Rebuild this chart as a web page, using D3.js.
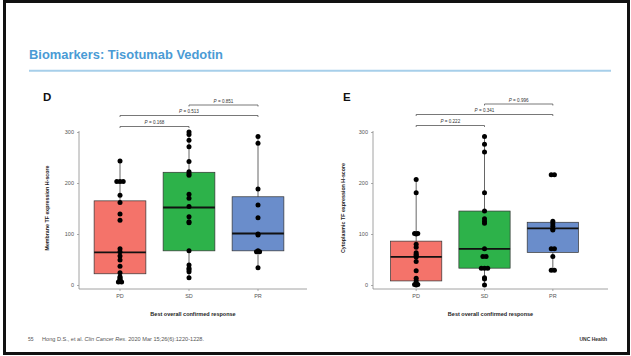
<!DOCTYPE html>
<html><head><meta charset="utf-8">
<script src="https://cdn.jsdelivr.net/npm/d3@7/dist/d3.min.js"></script>
<style>html,body{margin:0;padding:0;background:#fff;}svg{display:block;font-family:"Liberation Sans",Arial,sans-serif;}</style>
</head><body>
<svg id="c" width="631" height="356"></svg>
<script>
// ---------- data ----------
const categories = ["PD", "SD", "PR"];
const yTicks = [0, 100, 200, 300];
const fillColors = ["#F4736A", "#2DB24A", "#6A8DCB"];

// Panel D: membrane TF expression H-score
const membranePD = [243, 203, 203, 203, 176, 162, 139, 127, 71, 65, 57, 49, 37, 24, 16, 14, 12, 10, 8, 6, 6];
const membraneSD = [300, 295, 284, 271, 242, 222, 218, 215, 178, 170, 154, 134, 124, 122, 67, 39, 33, 30, 26, 14];
const membranePR = [291, 278, 188, 157, 132, 100, 98, 67, 65, 65, 34];
// [lower whisker, Q1, median, Q3, upper whisker]
const membraneBox = [[6, 22, 64, 165, 243], [14, 67, 152, 221, 300], [34, 67, 101, 173, 291]];
const membraneP = ["0.168", "0.513", "0.851"];

// Panel E: cytoplasmic TF expression H-score
const cytoPD = [207, 181, 101, 101, 100, 80, 74, 63, 60, 58, 55, 46, 28, 13, 8, 3, 2, 1, 1, 0];
const cytoSD = [291, 276, 261, 181, 145, 130, 125, 121, 71, 56, 56, 33, 33, 33, 14, 12, 0];
const cytoPR = [216, 216, 125, 120, 115, 110, 108, 71, 71, 56, 29, 29];
const cytoBox = [[0, 8, 55, 86, 207], [0, 33, 71, 145, 291], [29, 64, 111, 123, 123]];
const cytoP = ["0.222", "0.341", "0.996"];

// ---------- drawing ----------
const svg = d3.select("#c");
svg.append("rect").attr("x", 4.5).attr("y", 1.5).attr("width", 624).attr("height", 352)
  .attr("fill", "#fff").attr("stroke", "#111").attr("stroke-width", 3);

svg.append("text").attr("x", 29).attr("y", 58.5).attr("fill", "#4A9BD5")
  .attr("font-weight", "bold").attr("font-size", 13.5).attr("textLength", 194)
  .attr("lengthAdjust", "spacingAndGlyphs").text("Biomarkers: Tisotumab Vedotin");
svg.append("line").attr("x1", 29).attr("x2", 611).attr("y1", 70.7).attr("y2", 70.7)
  .attr("stroke", "#A7CFEA").attr("stroke-width", 2);

function panel(o) {
  const g = svg.append("g");
  const y = d3.scaleLinear().domain([0, 300]).range([285, 132]);
  const x = d3.scaleBand().domain(categories).range(o.xr).padding(0);
  const bw = x.bandwidth() * 0.75;
  const cx = c => x(c) + x.bandwidth() / 2;

  // panel letter
  g.append("text").attr("x", o.letterX).attr("y", 100.5).attr("font-weight", "bold")
    .attr("font-size", 11.5).attr("fill", "#111").text(o.letter);

  // axes lines
  g.append("line").attr("x1", o.axX).attr("x2", o.axX).attr("y1", 131).attr("y2", 289)
    .attr("stroke", "#8a8a8a").attr("stroke-width", 0.8);
  g.append("line").attr("x1", o.axX).attr("x2", o.axEnd).attr("y1", 289).attr("y2", 289)
    .attr("stroke", "#8a8a8a").attr("stroke-width", 0.8);

  const yAxis = d3.axisLeft(y).tickValues(yTicks).tickSize(2).tickPadding(3);
  const ya = g.append("g").attr("transform", `translate(${o.axX},0)`).call(yAxis);
  ya.select(".domain").remove();
  ya.selectAll("line").attr("stroke", "#8a8a8a").attr("stroke-width", 0.7);
  ya.selectAll("text").attr("font-size", 5.5).attr("fill", "#555").attr("font-family", "Liberation Sans, Arial, sans-serif");

  const xa = g.append("g").attr("transform", "translate(0,289)")
    .call(d3.axisBottom(x).tickSize(2).tickPadding(3));
  xa.select(".domain").remove();
  xa.selectAll("line").attr("stroke", "#8a8a8a").attr("stroke-width", 0.7);
  xa.selectAll("text").attr("font-size", 5.5).attr("fill", "#555").attr("font-family", "Liberation Sans, Arial, sans-serif");

  // axis titles
  g.append("text").attr("transform", `translate(${o.yTitleX},${208}) rotate(-90)`)
    .attr("text-anchor", "middle").attr("font-size", 5.3).attr("font-weight", "bold")
    .attr("fill", "#222").text(o.yTitle);
  g.append("text").attr("x", (o.axX + o.axEnd) / 2).attr("y", 316)
    .attr("text-anchor", "middle").attr("font-size", 5.5).attr("font-weight", "bold")
    .attr("fill", "#222").text("Best overall confirmed response");

  // whiskers
  g.selectAll(".wh").data(o.box).join("line")
    .attr("x1", (d, i) => cx(categories[i])).attr("x2", (d, i) => cx(categories[i]))
    .attr("y1", d => y(d[0])).attr("y2", d => y(d[4]))
    .attr("stroke", "#555").attr("stroke-width", 0.9);
  // boxes
  g.selectAll(".bx").data(o.box).join("rect")
    .attr("x", (d, i) => cx(categories[i]) - bw / 2).attr("width", bw)
    .attr("y", d => y(d[3])).attr("height", d => y(d[1]) - y(d[3]))
    .attr("fill", (d, i) => fillColors[i]).attr("stroke", "#333").attr("stroke-width", 0.7);
  g.selectAll(".md").data(o.box).join("line")
    .attr("x1", (d, i) => cx(categories[i]) - bw / 2).attr("x2", (d, i) => cx(categories[i]) + bw / 2)
    .attr("y1", d => y(d[2])).attr("y2", d => y(d[2]))
    .attr("stroke", "#111").attr("stroke-width", 1.8);

  // points (ties spread horizontally)
  o.points.forEach((arr, i) => {
    const counts = d3.rollup(arr, v => v.length, d => d);
    const seen = new Map();
    const pts = arr.map(v => {
      const n = counts.get(v), k = seen.get(v) || 0; seen.set(v, k + 1);
      return { v, dx: (k - (n - 1) / 2) * 3.2 };
    });
    g.selectAll(null).data(pts).join("circle")
      .attr("cx", d => cx(categories[i]) + d.dx).attr("cy", d => y(d.v)).attr("r", 2.5)
      .attr("fill", "#000");
  });

  // significance brackets
  const pairs = [[0, 1, 126.5], [0, 2, 115.5], [1, 2, 105]];
  pairs.forEach((p, j) => {
    const x1 = cx(categories[p[0]]), x2 = cx(categories[p[1]]), yy = p[2] + o.bOff;
    g.append("path").attr("d", `M${x1},${yy + 1.5}V${yy}H${x2}V${yy + 1.5}`)
      .attr("fill", "none").attr("stroke", "#555").attr("stroke-width", 0.8);
    const t = g.append("text").attr("x", (x1 + x2) / 2).attr("y", yy - 2.3)
      .attr("text-anchor", "middle").attr("font-size", 4.6).attr("fill", "#333");
    t.append("tspan").attr("font-style", "italic").text("P");
    t.append("tspan").text(" = " + o.p[j]);
  });
}

panel({ letter: "D", letterX: 43, xr: [85.5, 292.5], axX: 79, axEnd: 307, yTitleX: 49,
  yTitle: "Membrane TF expression H-score", box: membraneBox,
  points: [membranePD, membraneSD, membranePR], p: membraneP, bOff: 0 });
panel({ letter: "E", letterX: 343, xr: [382, 587], axX: 373, axEnd: 608, yTitleX: 345,
  yTitle: "Cytoplasmic TF expression H-score", box: cytoBox,
  points: [cytoPD, cytoSD, cytoPR], p: cytoP, bOff: -1 });

// footer
svg.append("text").attr("x", 28).attr("y", 341).attr("font-size", 5).attr("fill", "#555").text("55");
const cit = svg.append("text").attr("x", 42).attr("y", 341).attr("font-size", 5.3).attr("fill", "#555")
  .attr("textLength", 162).attr("lengthAdjust", "spacingAndGlyphs");
cit.append("tspan").text("Hong D.S., et al. ");
cit.append("tspan").attr("font-style", "italic").text("Clin Cancer Res.");
cit.append("tspan").text(" 2020 Mar 15;26(6):1220-1228.");
svg.append("text").attr("x", 607).attr("y", 341).attr("text-anchor", "end").attr("font-size", 5)
  .attr("font-weight", "bold").attr("fill", "#333").text("UNC Health");
</script>
</body></html>
